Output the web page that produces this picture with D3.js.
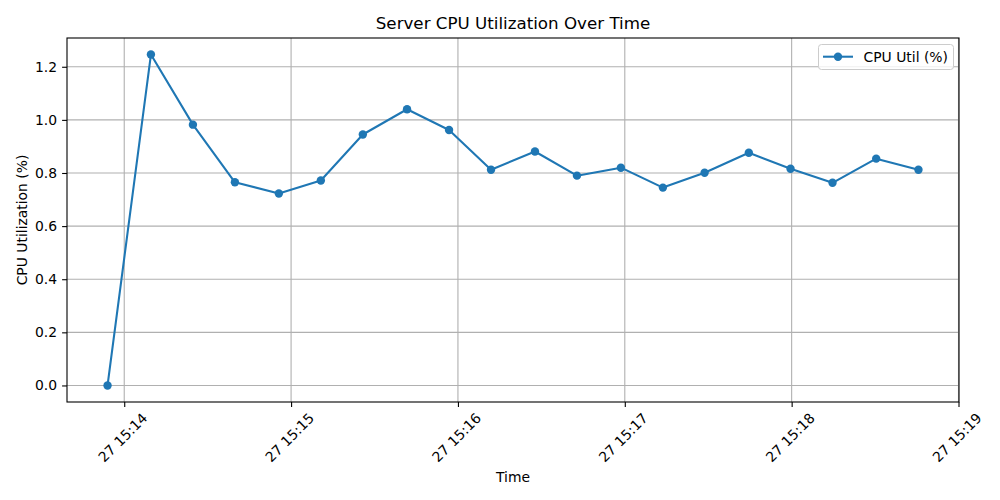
<!DOCTYPE html>
<html><head><meta charset="utf-8">
<script src="https://cdn.jsdelivr.net/npm/d3@7"></script>
<style>body{margin:0;background:#fff}svg{display:block;font-family:"DejaVu Sans",sans-serif}</style>
</head><body><svg id="c" width="1000" height="500"></svg>
<script>
const times = ["15:13:54.0","15:14:09.6","15:14:24.7","15:14:39.8","15:14:55.6","15:15:10.7","15:15:25.8","15:15:41.7","15:15:56.8","15:16:11.9","15:16:27.7","15:16:42.8","15:16:58.6","15:17:13.7","15:17:28.7","15:17:44.6","15:17:59.6","15:18:14.7","15:18:30.4","15:18:45.6"];
const cpuUtil = [0.0,1.246,0.982,0.765,0.723,0.772,0.945,1.040,0.962,0.812,0.881,0.790,0.820,0.745,0.801,0.876,0.816,0.763,0.854,0.812];
const xTickLabels = ["27 15:14","27 15:15","27 15:16","27 15:17","27 15:18","27 15:19"];
const yTicks = [0.0,0.2,0.4,0.6,0.8,1.0,1.2];
const title = "Server CPU Utilization Over Time";
const xLabel = "Time", yLabel = "CPU Utilization (%)", seriesName = "CPU Util (%)";

const FF = "DejaVu Sans, sans-serif";
const parse = d3.timeParse("%Y-%m-%d %H:%M:%S.%L");
const data = times.map((t,i)=>({t: parse("2024-05-27 "+t+"00"), v: cpuUtil[i]}));
const xTickDates = xTickLabels.map(s=>parse("2024-05-"+s+":00.000"));

const L=67,R=959,T=38,B=402;
const color="#1f77b4";
const svg=d3.select("#c");
const tExt=d3.extent(data,d=>d.t), span=tExt[1]-tExt[0];
const x=d3.scaleTime().domain([new Date(+tExt[0]-0.05*span), new Date(+tExt[1]+0.05*span)]).range([L,R]);
const vMax=d3.max(cpuUtil), vMin=d3.min(cpuUtil), vs=vMax-vMin;
const y=d3.scaleLinear().domain([vMin-0.05*vs, vMax+0.05*vs]).range([B,T]);

// grid
const g=svg.append("g");
g.selectAll(".gx").data(xTickDates).join("line").attr("x1",d=>x(d)).attr("x2",d=>x(d)).attr("y1",T).attr("y2",B).attr("stroke","#b0b0b0").attr("stroke-width",1.1);
g.selectAll(".gy").data(yTicks).join("line").attr("x1",L).attr("x2",R).attr("y1",d=>y(d)).attr("y2",d=>y(d)).attr("stroke","#b0b0b0").attr("stroke-width",1.1);

// axes
const xAxis=svg.append("g").attr("transform",`translate(0,${B})`).call(d3.axisBottom(x).tickValues(xTickDates).tickFormat((d,i)=>xTickLabels[i]).tickSizeOuter(0).tickSize(4.9));
xAxis.attr("font-family",FF).attr("font-size",13.9);
xAxis.select(".domain").remove();
xAxis.selectAll("line").attr("stroke","#000").attr("stroke-width",1.1);
xAxis.selectAll("text").attr("fill","#000").attr("dy",null).attr("y",null)
  .attr("text-anchor","middle").attr("dominant-baseline","central")
  .attr("transform","translate(-2,35.5) rotate(-45)");
const yAxis=svg.append("g").attr("transform",`translate(${L},0)`).call(d3.axisLeft(y).tickValues(yTicks).tickFormat(d3.format(".1f")).tickSizeOuter(0).tickSize(4.9).tickPadding(5));
yAxis.attr("font-family",FF).attr("font-size",13.9);
yAxis.select(".domain").remove();
yAxis.selectAll("line").attr("stroke","#000").attr("stroke-width",1.1);
yAxis.selectAll("text").attr("fill","#000");

svg.append("rect").attr("x",L).attr("y",T).attr("width",R-L).attr("height",B-T).attr("fill","none").attr("stroke","#000").attr("stroke-width",1.1);

// line
svg.append("path").datum(data).attr("d",d3.line().x(d=>x(d.t)).y(d=>y(d.v))).attr("fill","none").attr("stroke",color).attr("stroke-width",2.08).attr("stroke-linejoin","round");
svg.selectAll(".pt").data(data).join("circle").attr("cx",d=>x(d.t)).attr("cy",d=>y(d.v)).attr("r",4.2).attr("fill",color);

// texts
svg.append("text").attr("x",(L+R)/2).attr("y",23).attr("text-anchor","middle").attr("dominant-baseline","central").attr("font-size","16.7px").text(title);
svg.append("text").attr("x",(L+R)/2).attr("y",477).attr("text-anchor","middle").attr("dominant-baseline","central").attr("font-size","13.9px").text(xLabel);
svg.append("text").attr("transform",`translate(22,${(T+B)/2}) rotate(-90)`).attr("text-anchor","middle").attr("dominant-baseline","central").attr("font-size","13.9px").text(yLabel);

// legend
const lg=svg.append("g");
lg.append("rect").attr("x",818.5).attr("y",44.5).attr("width",135).attr("height",25).attr("rx",3).attr("fill","#fff").attr("fill-opacity",0.8).attr("stroke","#cccccc").attr("stroke-width",1);
lg.append("line").attr("x1",823).attr("x2",853).attr("y1",56.7).attr("y2",56.7).attr("stroke",color).attr("stroke-width",2.08);
lg.append("circle").attr("cx",838).attr("cy",56.7).attr("r",4.2).attr("fill",color);
lg.append("text").attr("x",863.5).attr("y",56.7).attr("dominant-baseline","central").attr("font-size","13.9px").text(seriesName);
</script></body></html>
